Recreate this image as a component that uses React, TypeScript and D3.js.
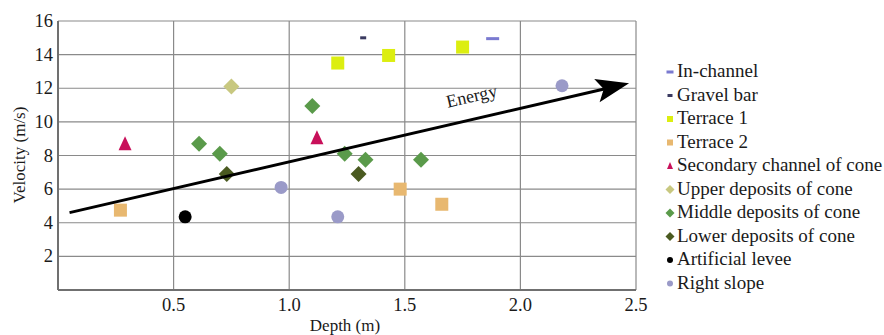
import React from "react";
import * as d3 from "d3";

const xTicks = [0.5, 1.0, 1.5, 2.0, 2.5];
const yTicks = [2, 4, 6, 8, 10, 12, 14, 16];

const seriesNames = [
  "In-channel",
  "Gravel bar",
  "Terrace 1",
  "Terrace 2",
  "Secondary channel of cone",
  "Upper deposits of cone",
  "Middle deposits of cone",
  "Lower deposits of cone",
  "Artificial levee",
  "Right slope",
];
const seriesColors = ["#7a7ad0", "#3a3a60", "#dcee10", "#e8b870", "#c8105a", "#c8c880", "#5a9a4a", "#4a5a20", "#000000", "#9a9ac8"];
const seriesShapes = ["dash", "dash", "square", "square", "triangle", "diamond", "diamond", "diamond", "circle", "circle"];

const inChannel: [number, number][] = [[1.88, 14.95]];
const gravelBar: [number, number][] = [[1.32, 15.0]];
const terrace1: [number, number][] = [[1.21, 13.5], [1.43, 13.95], [1.75, 14.45]];
const terrace2: [number, number][] = [[0.27, 4.75], [1.48, 6.0], [1.66, 5.1]];
const secondary: [number, number][] = [[0.29, 8.7], [1.12, 9.05]];
const upper: [number, number][] = [[0.75, 12.1]];
const middle: [number, number][] = [[0.61, 8.7], [0.70, 8.1], [1.10, 10.95], [1.24, 8.1], [1.33, 7.75], [1.57, 7.75]];
const lower: [number, number][] = [[0.73, 6.9], [1.30, 6.9]];
const levee: [number, number][] = [[0.55, 4.35]];
const rightSlope: [number, number][] = [[0.965, 6.1], [1.21, 4.35], [2.18, 12.15]];

const seriesData = [inChannel, gravelBar, terrace1, terrace2, secondary, upper, middle, lower, levee, rightSlope];

const arrowStart: [number, number] = [0.05, 4.6];
const arrowEnd: [number, number] = [2.47, 12.3];

function Marker({ shape, color, x, y, s, dashW }: { shape: string; color: string; x: number; y: number; s: number; dashW?: number }) {
  if (shape === "square") return <rect x={x - s / 2} y={y - s / 2} width={s} height={s} fill={color} />;
  if (shape === "circle") return <circle cx={x} cy={y} r={s / 2} fill={color} />;
  if (shape === "triangle") {
    const h = s;
    return <path d={`M${x},${y - h / 2 - 1}L${x + s / 2},${y + h / 2}L${x - s / 2},${y + h / 2}Z`} fill={color} />;
  }
  if (shape === "diamond") {
    const r = s / 2 + 1.5;
    return <path d={`M${x},${y - r}L${x + r},${y}L${x},${y + r}L${x - r},${y}Z`} fill={color} />;
  }
  const w = dashW ?? s;
  return <rect x={x - w / 2} y={y - 1.5} width={w} height={3} fill={color} />;
}

export default function App() {
  const W = 884, H = 335;
  const x = d3.scaleLinear().domain([0, 2.5]).range([58, 636]);
  const y = d3.scaleLinear().domain([0, 16]).range([290, 21]);

  const x0 = x(arrowStart[0]), y0 = y(arrowStart[1]);
  const x1 = x(arrowEnd[0]), y1 = y(arrowEnd[1]);
  const ang = Math.atan2(y1 - y0, x1 - x0);
  const deg = (ang * 180) / Math.PI;
  const L = 33;
  const headBack = 26;

  const legendY0 = 71;
  const legendDy = 23.5;

  return (
    <svg width={W} height={H} style={{ position: "absolute", left: 0, top: 0, background: "#fff" }}>
      <style>{`text { font-family: "Liberation Serif", "Times New Roman", "DejaVu Serif", serif; fill: #1a1a1a; }`}</style>
      {yTicks.map((t) => (
        <line key={"gy" + t} x1={x(0)} x2={x(2.5)} y1={y(t)} y2={y(t)} stroke="#8a8a8a" strokeWidth={1.2} />
      ))}
      {xTicks.map((t) => (
        <line key={"gx" + t} x1={x(t)} x2={x(t)} y1={y(0)} y2={y(16)} stroke="#8a8a8a" strokeWidth={1.2} />
      ))}
      <line x1={x(0)} x2={x(0)} y1={y(0)} y2={y(16)} stroke="#707070" strokeWidth={2} />
      <line x1={x(0)} x2={x(2.5)} y1={y(0)} y2={y(0)} stroke="#707070" strokeWidth={2} />
      {yTicks.map((t) => (
        <text key={"ty" + t} x={x(0) - 5} y={y(t) + 6} textAnchor="end" fontSize={18.5}>
          {String(t)}
        </text>
      ))}
      {xTicks.map((t) => (
        <text key={"tx" + t} x={x(t)} y={y(0) + 21} textAnchor="middle" fontSize={18.5}>
          {d3.format(".1f")(t)}
        </text>
      ))}
      <text x={345} y={331} textAnchor="middle" fontSize={17}>Depth (m)</text>
      <text transform={`translate(25,${155}) rotate(-90)`} textAnchor="middle" fontSize={17}>
        Velocity (m/s)
      </text>

      {seriesData.map((pts, i) =>
        pts.map((p, j) => (
          <Marker key={i + "-" + j} shape={seriesShapes[i]} color={seriesColors[i]} x={x(p[0])} y={y(p[1])} s={13} dashW={i === 0 ? 13 : 6} />
        ))
      )}

      <line x1={x0} y1={y0} x2={x1 - Math.cos(ang) * 20} y2={y1 - Math.sin(ang) * 20} stroke="#000" strokeWidth={3} />
      <path transform={`translate(${x1},${y1}) rotate(${deg})`} d={`M0,0L${-L},${-12}L${-headBack},0L${-L},${12}Z`} fill="#000" />
      <text transform={`translate(${473},${102}) rotate(${deg})`} textAnchor="middle" fontSize={18}>
        Energy
      </text>

      {seriesNames.map((n, i) => (
        <g key={n} transform={`translate(0,${legendY0 + i * legendDy})`}>
          <Marker shape={seriesShapes[i]} color={seriesColors[i]} x={670} y={1} s={6} dashW={i === 0 ? 7 : 5} />
          <text x={677} y={6} fontSize={19}>
            {n}
          </text>
        </g>
      ))}
    </svg>
  );
}
